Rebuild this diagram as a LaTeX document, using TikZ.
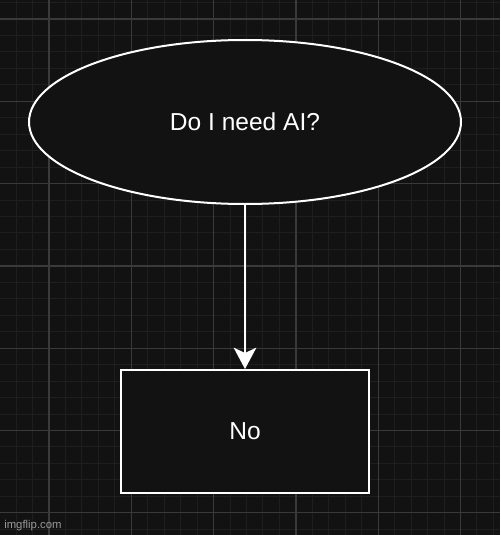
\documentclass[tikz,border=0pt]{standalone}
\usepackage{fontspec}
\setmainfont{Liberation Sans}
\usetikzlibrary{positioning,shapes.geometric,arrows.meta}
\definecolor{bgdark}{HTML}{121212}
\definecolor{gridminor}{HTML}{1E1E1E}
\definecolor{gridmajor}{HTML}{3A3A3A}
\definecolor{markgray}{HTML}{999999}

\begin{document}
\begin{tikzpicture}[x=0.75pt,y=-0.75pt,
    flowshape/.style={draw=white, line width=1.5pt, fill=bgdark, text=white, inner sep=0pt,
      font=\fontsize{18.4}{22}\selectfont},
    minorline/.style={gridminor, line width=0.75pt},
    majorline/.style={gridmajor, line width=0.9pt}]
					\pgfmathsetmacro{\GridMajor}{82.3}
					\pgfmathsetmacro{\GridMinor}{\GridMajor/5}
					% BACKGROUND
					\fill[bgdark] (0,0) rectangle (500,535);
					\useasboundingbox (0,0) rectangle (500,535);
					\begin{scope}
						\clip (0,0) rectangle (500,535);
						\foreach \i in {-3,...,32} {
							\draw[minorline] ({49+\i*\GridMinor},0) -- ++(0,535);
							\draw[minorline] (0,{19+\i*\GridMinor}) -- ++(500,0);
						}
						\foreach \i in {-1,...,6} {
							\draw[majorline] ({49+\i*\GridMajor},0) -- ++(0,535);
							\draw[majorline] (0,{19+\i*\GridMajor}) -- ++(500,0);
						}
					\end{scope}
					% FLOW
					\node[flowshape, ellipse, minimum width=324pt, minimum height=123pt] (question) at (245,122) {Do I need AI?};
					\node[flowshape, rectangle, minimum width=186pt, minimum height=92.25pt] (answer) at (245,431.5) {No};
					\draw[white, line width=1.5pt, -{Stealth[length=16pt, width=17pt, inset=4pt]}] (question) -- (answer);
					\node[anchor=west, text=markgray, font=\fontsize{8.5}{10}\selectfont, inner sep=0pt] (watermark) at (4,526) {imgflip.com};
				\end{tikzpicture}
\end{document}
